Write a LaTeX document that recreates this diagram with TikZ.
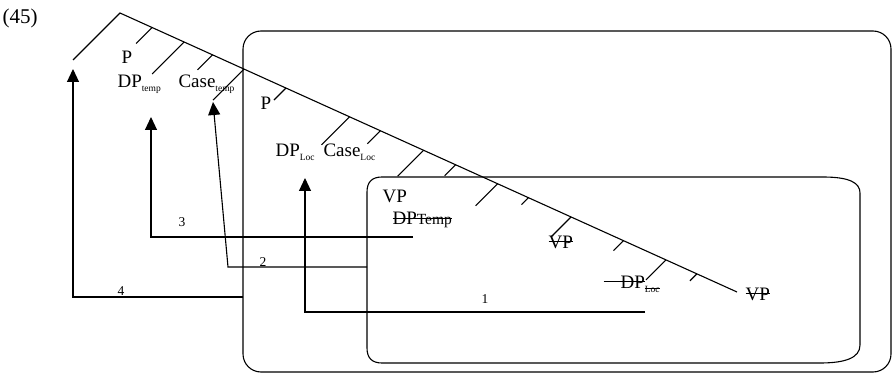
\documentclass[tikz,border=0pt]{standalone}
\usepackage{fontspec}
\setmainfont{Liberation Serif}
\usepackage{tikz}
\usetikzlibrary{arrows.meta,calc}

\newcommand\lowsub[1]{\raisebox{-4pt}{\fontsize{9.5}{10}\selectfont #1}}
\newcommand\struck[1]{\ooalign{#1\cr\leaders\hrule height .37em depth -.31em\hfill\cr}}

\begin{document}
\begin{tikzpicture}[x=1pt,y=-1pt,line width=1.1pt,
    lbl/.style={inner sep=0pt,anchor=base west,font=\fontsize{19}{21}\selectfont},
    num/.style={inner sep=0pt,font=\fontsize{13.5}{15}\selectfont},
    mv/.style={-{Triangle[length=13pt,width=12pt]}}]
\useasboundingbox (0,0) rectangle (894,374);

% Example number
\node[lbl,font=\fontsize{21}{23}\selectfont] (ex) at (2,24) {(45)};

% Boxes
\draw[rounded corners=18pt] (243,31) rectangle (891,372);
\draw (382,177) -- (823,177) .. controls (850,177) and (860,183) .. (860,193)
  -- (860,345) .. controls (860,358) and (845,363) .. (820,363)
  -- (382,363) .. controls (372,363) and (367,358) .. (367,348)
  -- (367,192) .. controls (367,182) and (372,177) .. (382,177) -- cycle;

% Tree
\coordinate (top) at (120,13);
\coordinate (foot) at (737,292);
\draw (73,60) -- (top) -- (foot);
\foreach \t/\l in {0.052/16, 0.104/32, 0.150/15, 0.201/31, 0.269/12,
    0.372/28, 0.422/13, 0.492/26, 0.544/11, 0.612/22, 0.662/7,
    0.731/20, 0.816/10, 0.885/20, 0.935/7}
  \draw ($(top)!\t!(foot)$) -- ++(-\l,\l);

% Labels
\node[lbl] (p1) at (121,64) {P};
\node[lbl] (dptemp) at (117,88) {DP\lowsub{temp}};
\node[lbl] (casetemp) at (178,88) {Case\lowsub{temp}};
\node[lbl] (p2) at (260,110) {P};
\node[lbl] (dploc) at (275,157) {DP\lowsub{Loc}};
\node[lbl] (caseloc) at (323,157) {Case\lowsub{Loc}};
\node[lbl] (vp) at (382,203) {VP};
\node[lbl] (dptrace) at (392,225) {\struck{DP{\fontsize{15.5}{16}\selectfont Temp}}};
\node[lbl] (vptrace) at (548,248) {\struck{VP}};
\node[lbl] (dploctrace) at (603,288) {\struck{\hspace{17pt}DP}\lowsub{\struck{Loc}}};
\node[lbl] (vpend) at (745,300) {\struck{VP}};

% Movements
\coordinate (a4s) at (243,297);
\coordinate (a4e) at (73,69);
\draw[mv] (a4s) -| (a4e);
\coordinate (a3s) at (413,237);
\coordinate (a3e) at (151,117);
\draw[mv] (a3s) -| (a3e);
\coordinate (a2s) at (367,267);
\coordinate (a2k) at (228,267);
\coordinate (a2e) at (213,102);
\draw[mv] (a2s) -- (a2k) -- (a2e);
\coordinate (a1s) at (645,312);
\coordinate (a1e) at (305,178);
\draw[mv] (a1s) -| (a1e);

% Step numbers
\node[num] (n3) at (182,222) {3};
\node[num] (n2) at (263,262) {2};
\node[num] (n4) at (121,291) {4};
\node[num] (n1) at (485,299) {1};

\end{tikzpicture}
\end{document}
